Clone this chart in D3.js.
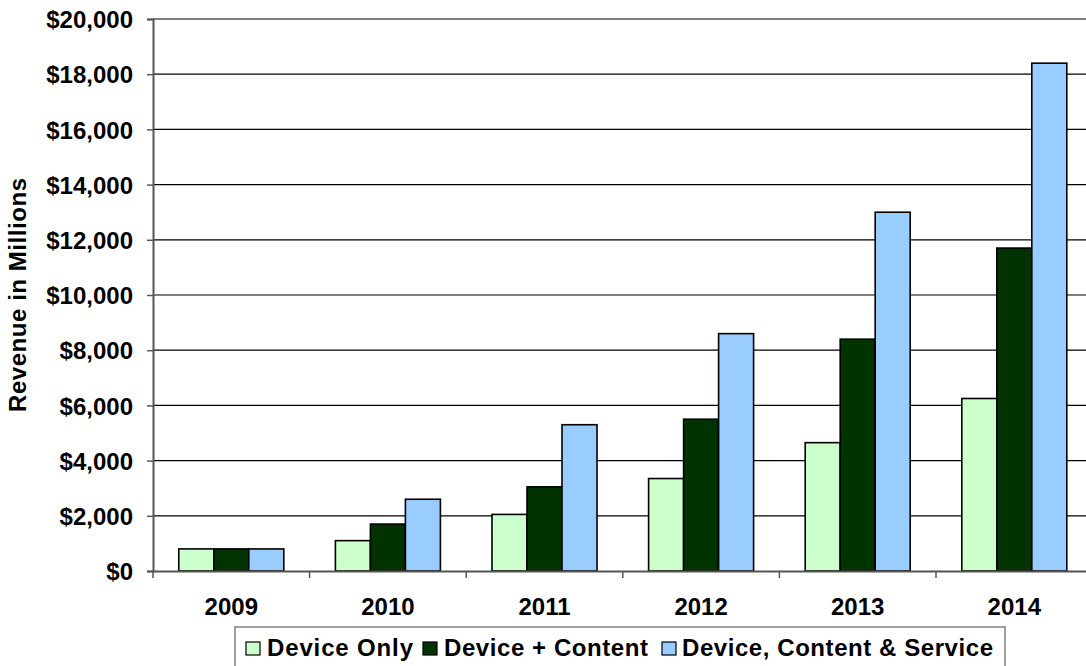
<!DOCTYPE html>
<html>
<head>
<meta charset="utf-8">
<script src="https://cdn.jsdelivr.net/npm/d3@7/dist/d3.min.js"></script>
<style>
  html, body { margin: 0; padding: 0; background: #fff; }
  svg { display: block; }
  text { font-family: "Liberation Sans", Arial, sans-serif; font-weight: bold; fill: #000; }
</style>
</head>
<body>
<svg id="chart" width="1086" height="666"></svg>
<script>
const years = ["2009", "2010", "2011", "2012", "2013", "2014"];
const seriesNames = ["Device Only", "Device + Content", "Device, Content & Service"];
const deviceOnly = [800, 1100, 2050, 3350, 4650, 6250];
const deviceContent = [800, 1700, 3050, 5500, 8400, 11700];
const deviceContentService = [800, 2600, 5300, 8600, 13000, 18400];
const yTicks = [0, 2000, 4000, 6000, 8000, 10000, 12000, 14000, 16000, 18000, 20000];
const colors = ["#CCFFCC", "#003300", "#99CCFF"];

const seriesValues = [deviceOnly, deviceContent, deviceContentService];

const svg = d3.select("#chart");
const plotL = 153, plotR = 1092.6, plotT = 19, plotB = 571;
const FS = 24;

const x = d3.scaleBand().domain(years).range([plotL, plotR]).paddingInner(0).paddingOuter(0);
const y = d3.scaleLinear().domain([0, 20000]).range([plotB, plotT]);

const fmt = v => "$" + d3.format(",")(v);

// gridlines
svg.append("g").selectAll("line").data(yTicks.filter(t => t > 0 && t < 20000)).join("line")
  .attr("x1", plotL).attr("x2", plotR)
  .attr("y1", d => y(d)).attr("y2", d => y(d))
  .attr("stroke", "#000").attr("stroke-width", 1.2);

// top plot border
svg.append("line").attr("x1", plotL).attr("x2", plotR).attr("y1", y(20000)).attr("y2", y(20000))
  .attr("stroke", "#808080").attr("stroke-width", 2);

// bars
const groupW = 105;
const barW = groupW / 3;
const gOff = (x.bandwidth() - groupW) / 2;
const barData = [];
years.forEach((yr, i) => {
  seriesValues.forEach((arr, s) => {
    barData.push({yr, s, v: arr[i]});
  });
});
svg.append("g").selectAll("rect").data(barData).join("rect")
  .attr("x", d => x(d.yr) + gOff + d.s * barW)
  .attr("y", d => y(d.v))
  .attr("width", barW)
  .attr("height", d => y(0) - y(d.v))
  .attr("fill", d => colors[d.s])
  .attr("stroke", "#000").attr("stroke-width", 1.6);

// y axis
const yAxis = d3.axisLeft(y).tickValues(yTicks).tickFormat(fmt).tickSize(6).tickPadding(14);
const yg = svg.append("g").attr("transform", `translate(${plotL},0)`).call(yAxis);
yg.select(".domain").attr("stroke", "#555").attr("stroke-width", 2);
yg.selectAll(".tick line").attr("stroke", "#555").attr("stroke-width", 1.5);
yg.selectAll(".tick text")
  .attr("font-size", FS).attr("font-family", null)
  .attr("dy", "0.36em");

// x axis
const xAxis = d3.axisBottom(x).tickSize(0).tickPadding(0);
const xg = svg.append("g").attr("transform", `translate(0,${plotB})`).call(xAxis);
xg.select(".domain").attr("stroke", "#555").attr("stroke-width", 2);
xg.selectAll(".tick text")
  .attr("font-size", FS).attr("font-family", null)
  .attr("y", 44).attr("dy", 0);
// category boundary ticks
const bounds = years.map(yr => x(yr)).concat([plotR]);
svg.append("g").selectAll("line").data(bounds).join("line")
  .attr("x1", d => d).attr("x2", d => d)
  .attr("y1", plotB).attr("y2", plotB + 7)
  .attr("stroke", "#555").attr("stroke-width", 1.5);

// y axis title
svg.append("text")
  .attr("transform", `translate(26,${(plotT + plotB) / 2}) rotate(-90)`)
  .attr("text-anchor", "middle")
  .attr("font-size", FS)
  .text("Revenue in Millions")
  .attr("textLength", 234).attr("lengthAdjust", "spacing");

// legend
const lg = svg.append("g");
lg.append("rect").attr("x", 235).attr("y", 627).attr("width", 770).attr("height", 60)
  .attr("fill", "#fff").attr("stroke", "#808080").attr("stroke-width", 1.5);
const legendItems = [
  {sx: 246, tx: 267, tw: 146},
  {sx: 423, tx: 444, tw: 204},
  {sx: 662, tx: 682, tw: 311}
];
legendItems.forEach((it, i) => {
  lg.append("rect").attr("x", it.sx).attr("y", 642).attr("width", 14).attr("height", 13)
    .attr("fill", colors[i]).attr("stroke", "#000").attr("stroke-width", 1.2);
  lg.append("text").attr("x", it.tx).attr("y", 656)
    .attr("font-size", FS)
    .attr("textLength", it.tw).attr("lengthAdjust", "spacing")
    .text(seriesNames[i]);
});
</script>
</body>
</html>
